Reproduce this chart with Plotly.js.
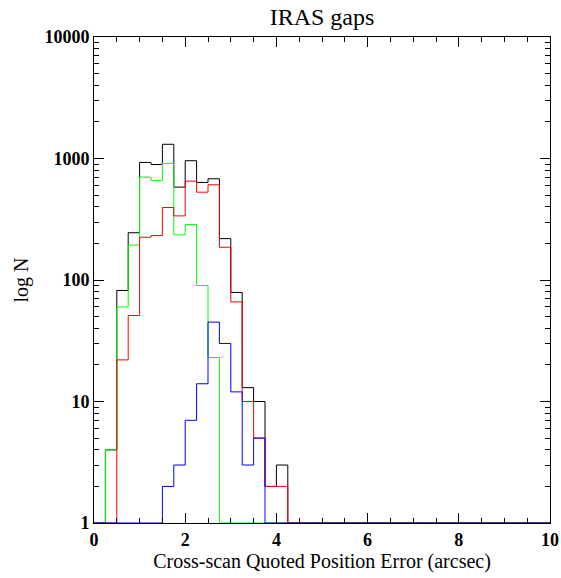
<!DOCTYPE html>
<html>
<head>
<meta charset="utf-8">
<script src="https://cdn.plot.ly/plotly-3.0.1.min.js"></script>
<style>html,body{margin:0;padding:0;background:#fff}#chart{width:561px;height:578px}</style>
</head>
<body>
<div id="chart"></div>
<script>
// Histogram bins: 0 to 10 in steps of 0.25 (left edges)
const binWidth = 0.25;
const nBins = 40;
// Counts per bin (bins not listed are zero)
const allCounts   = [0, 4, 82, 245, 928, 892, 1309, 581, 959, 635, 681, 219, 79, 13, 10, 2, 3];
const greenCounts = [0, 4, 60, 194, 703, 660, 912, 235, 286, 90, 23, 0, 0, 0, 0, 0, 0];
const redCounts   = [0, 0, 22, 51, 225, 232, 395, 337, 651, 528, 608, 186, 66, 10, 5, 2, 2];
const blueCounts  = [0, 0, 0, 0, 0, 0, 2, 3, 7, 14, 45, 30, 12, 3, 5, 0, 0];
const xTickVals = [0, 2, 4, 6, 8, 10];
const yTickVals = [1, 10, 100, 1000, 10000];
const yTickText = ['1', '10', '100', '1000', '10000'];

const edges = [];
for (let i = 0; i <= nBins; i++) edges.push(i * binWidth);

function stepTrace(counts, color) {
  const y = [];
  for (let i = 0; i < nBins; i++) {
    const c = i < counts.length ? counts[i] : 0;
    y.push(c > 0 ? c : 1); // zero counts clip to the log-axis floor
  }
  y.push(y[y.length - 1]);
  return {
    x: edges, y: y, type: 'scatter', mode: 'lines',
    line: {shape: 'hv', color: color, width: 1},
    hoverinfo: 'skip', showlegend: false
  };
}

const data = [
  stepTrace(allCounts, '#000000'),
  stepTrace(greenCounts, '#00ff00'),
  stepTrace(redCounts, '#ff0000'),
  stepTrace(blueCounts, '#0000ff')
];

const serif = 'Liberation Serif';
const layout = {
  width: 561, height: 578,
  margin: {l: 94, r: 11, t: 37, b: 55},
  paper_bgcolor: '#fff', plot_bgcolor: '#fff',
  showlegend: false,
  title: {text: 'IRAS gaps', font: {family: serif, size: 24, color: '#000'},
          x: 0.574, xanchor: 'center', y: 0.986, yanchor: 'top'},
  xaxis: {
    range: [0, 10], tickvals: xTickVals, ticktext: xTickVals.map(String),
    ticks: 'inside', ticklen: 10, tickwidth: 1, tickcolor: '#000',
    showline: true, linecolor: '#000', linewidth: 1, mirror: 'ticks',
    showgrid: false, zeroline: false, ticklabeloverflow: 'allow',
    minor: {dtick: 0.5, ticks: 'inside', ticklen: 5, tickwidth: 1, tickcolor: '#000', showgrid: false},
    tickfont: {family: serif, size: 18, color: '#000', weight: 'bold'},
    title: {text: 'Cross-scan Quoted Position Error (arcsec)', font: {family: serif, size: 20, color: '#000'}, standoff: 1}
  },
  yaxis: {
    type: 'log', range: [0, 4], tickvals: yTickVals, ticktext: yTickText,
    ticks: 'inside', ticklen: 10, tickwidth: 1, tickcolor: '#000',
    showline: true, linecolor: '#000', linewidth: 1, mirror: 'ticks',
    showgrid: false, zeroline: false, ticklabeloverflow: 'allow',
    minor: {dtick: 'D1', ticks: 'inside', ticklen: 5, tickwidth: 1, tickcolor: '#000', showgrid: false},
    tickfont: {family: serif, size: 18, color: '#000', weight: 'bold'},
    title: {text: 'log N', font: {family: serif, size: 20, color: '#000'}, standoff: 10}
  }
};

Plotly.newPlot('chart', data, layout, {displayModeBar: false, staticPlot: true});
</script>
</body>
</html>
